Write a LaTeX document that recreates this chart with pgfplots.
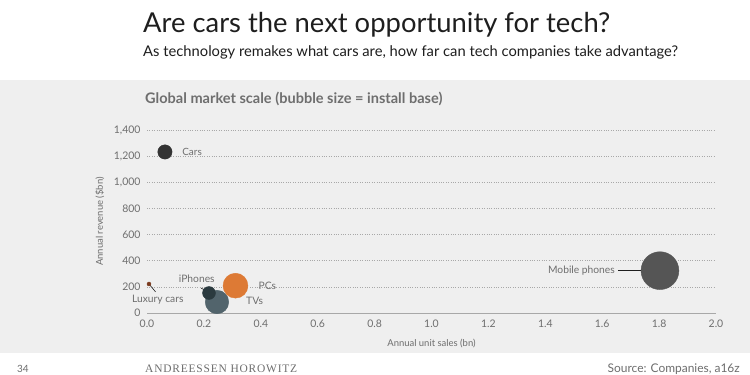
\documentclass[border=0pt]{standalone}
\usepackage{fontspec}
\setmainfont{Lato}
\newfontfamily\serifcaps[LetterSpace=7]{Liberation Serif}
\usepackage{pgfplots}
\pgfplotsset{compat=1.18}
\definecolor{panel}{HTML}{EFEFEF}
\definecolor{txt}{HTML}{1E1E1E}
\definecolor{lab}{HTML}{6E6E6E}
\definecolor{grid}{HTML}{A8A8A8}
\definecolor{cCars}{HTML}{333333}
\definecolor{cLux}{HTML}{7A3A1E}
\definecolor{cIph}{HTML}{2B3A3F}
\definecolor{cTV}{HTML}{4D6068}
\definecolor{cPC}{HTML}{DD7A35}
\definecolor{cMob}{HTML}{555555}
\begin{document}
\begin{tikzpicture}
\path[use as bounding box] (0,0) rectangle (750bp,375bp);
\fill[white] (0,0) rectangle (750bp,375bp);
\fill[panel] (0,22bp) rectangle (750bp,295bp);
\node[anchor=base west,inner sep=0,text=txt,font=\fontsize{27.5}{31}\selectfont] at (143bp,342bp) {Are cars the next opportunity for tech?};
\node[anchor=base west,inner sep=0,text=txt,font=\fontsize{14.8}{17}\selectfont] at (143bp,318bp) {As technology remakes what cars are, how far can tech companies take advantage?};
\node[anchor=base west,inner sep=0,text=lab,font=\fontsize{14.6}{17}\selectfont\bfseries] at (145bp,271bp) {Global market scale (bubble size = install base)};
\node[anchor=base west,inner sep=0,text=lab,font=\fontsize{10}{11}\selectfont] at (17bp,3bp) {34};
\node[anchor=base west,inner sep=0,text=lab,font=\serifcaps\fontsize{11.5}{13}\selectfont] at (145bp,3bp) {ANDREESSEN HOROWITZ};
\node[anchor=base east,inner sep=0,text=lab,font=\fontsize{12}{13}\selectfont] at (740bp,3bp) {Source: Companies, a16z};
\begin{axis}[
  at={(147bp,62bp)}, anchor=origin,
  scale only axis, width=569bp, height=183bp,
  xmin=0, xmax=2, ymin=0, ymax=1400,
  clip=false,
  axis x line*=bottom, axis y line*=left,
  x axis line style={draw=grid, line width=0.8pt, -},
  y axis line style={draw=none},
  xtick={0,0.2,...,2.01},
  ytick={0,200,...,1400},
  tick style={draw=none},
  ymajorgrids,
  grid style={draw=grid, dotted, line width=0.6pt},
  xticklabel style={yshift=-3bp,/pgf/number format/.cd,fixed,fixed zerofill,precision=1,assume math mode=true},
  yticklabel style={xshift=-3bp,/pgf/number format/.cd,1000 sep={,},assume math mode=true},
  ticklabel style={text=lab,font=\fontsize{10.5}{12}\selectfont},
  xlabel={Annual unit sales (bn)}, ylabel={Annual revenue (\$bn)},
  label style={text=lab,font=\fontsize{9.5}{11}\selectfont},
  xlabel style={at={(axis description cs:0.5,0)},yshift=-34bp,anchor=base},
  ylabel style={at={(axis description cs:-0.069,0.5)},anchor=south,rotate=0},
]
\addplot[only marks, mark=*, mark size=7.2pt, color=cCars] coordinates {(0.063,1232)};
\addplot[only marks, mark=*, mark size=2pt, color=cLux] coordinates {(0.007,222)};
\addplot[only marks, mark=*, mark size=11.8pt, color=cTV, opacity=0.97] coordinates {(0.246,84)};
\addplot[only marks, mark=*, mark size=6.5pt, color=cIph] coordinates {(0.218,153)};
\addplot[only marks, mark=*, mark size=12.5pt, color=cPC] coordinates {(0.311,209)};
\addplot[only marks, mark=*, mark size=19pt, color=cMob] coordinates {(1.803,324)};
\draw[txt, line width=0.6pt] (axis cs:0.007,222) -- (axis cs:0.03,162);
\draw[txt, line width=0.6pt] (axis cs:0.19,190) -- (axis cs:0.215,165);
\draw[txt, line width=0.6pt] (axis cs:1.655,324) -- (axis cs:1.80,324);
\node[anchor=west,text=lab,font=\fontsize{10}{11}\selectfont,inner sep=1pt] at (axis cs:0.12,1232) {Cars};
\node[anchor=base,text=lab,font=\fontsize{10.3}{11}\selectfont,inner sep=0pt] at (axis cs:0.038,82) {Luxury cars};
\node[anchor=base,text=lab,font=\fontsize{10.3}{11}\selectfont,inner sep=0pt] at (axis cs:0.175,235) {iPhones};
\node[anchor=west,text=lab,font=\fontsize{10.3}{11}\selectfont,inner sep=0pt] at (axis cs:0.392,205) {PCs};
\node[anchor=west,text=lab,font=\fontsize{10.3}{11}\selectfont,inner sep=0pt] at (axis cs:0.348,90) {TVs};
\node[anchor=east,text=lab,font=\fontsize{10.3}{11}\selectfont,inner sep=0pt] at (axis cs:1.645,324) {Mobile phones};
\end{axis}
\end{tikzpicture}
\end{document}
